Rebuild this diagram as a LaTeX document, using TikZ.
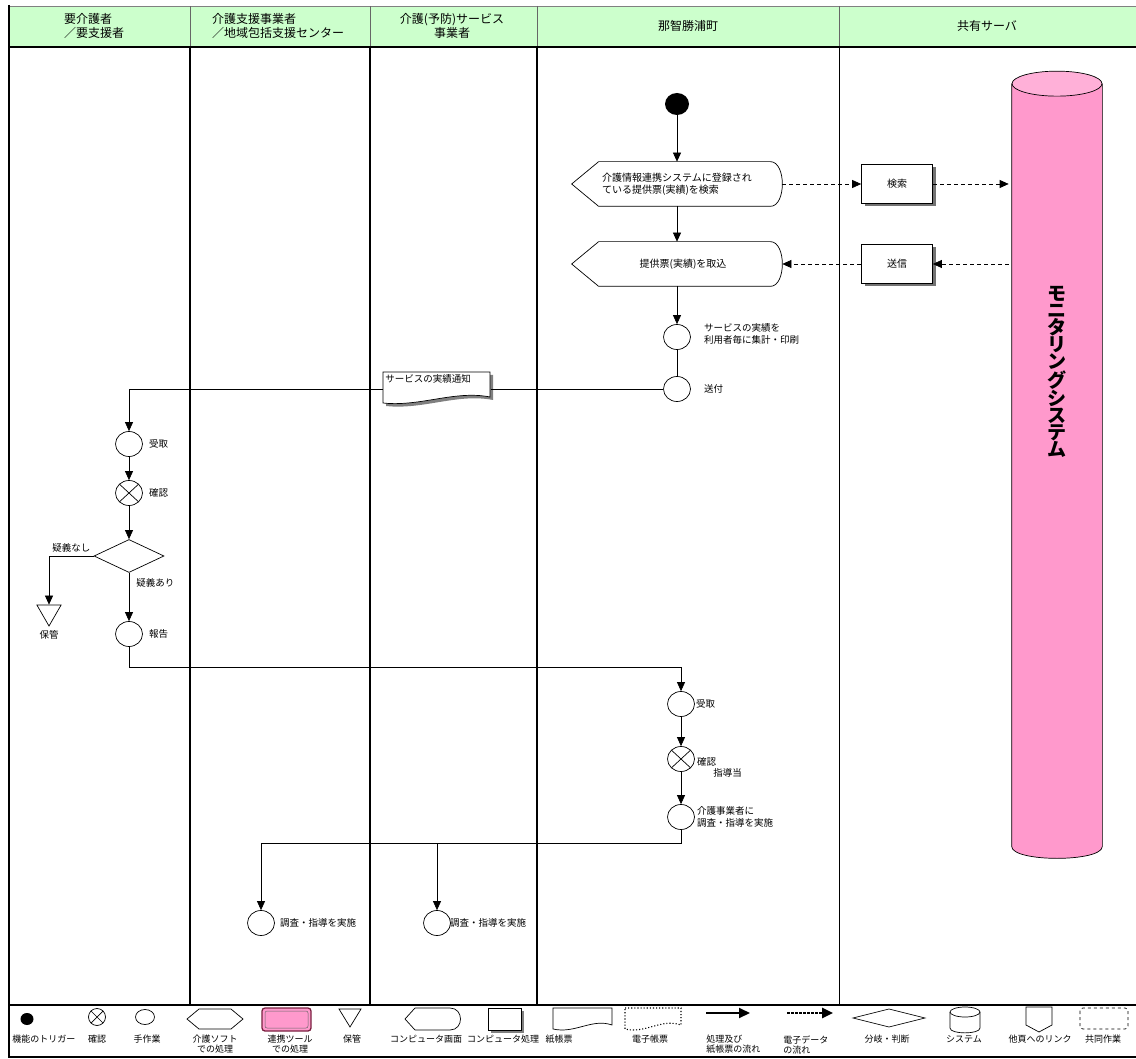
\documentclass[tikz,border=0pt]{standalone}
\usepackage{fontspec}
\setmainfont{Noto Sans CJK JP}
\usetikzlibrary{arrows.meta, positioning, calc, shapes.geometric, shadows}

\definecolor{headgreen}{HTML}{CCFFCC}
\definecolor{syspink}{HTML}{FF99CC}
\definecolor{syspinklt}{HTML}{FFB0D8}
\definecolor{toolred}{HTML}{7A2040}

\begin{document}
\begin{tikzpicture}[
    x=1pt, y=-1pt,
    line width=0.7pt,
    >={Triangle[length=9pt,width=8pt]},
    font=\fontsize{10}{12}\selectfont,
    % 見出し・ラベル
    lanehead/.style={font=\fontsize{12}{14.5}\selectfont, align=left},
    lbl/.style={font=\fontsize{9.5}{11.5}\selectfont, align=left, inner sep=1pt},
    legtext/.style={font=\fontsize{9}{10}\selectfont, anchor=north, align=center, inner sep=0pt},
    % 記号
    trigger/.style={ellipse, fill=black, minimum width=24pt, minimum height=22pt, inner sep=0pt},
    manual/.style={ellipse, draw, fill=white, minimum width=27pt, minimum height=25pt, inner sep=0pt},
    check/.style={manual, path picture={
        \draw (path picture bounding box.north west) -- (path picture bounding box.south east)
              (path picture bounding box.north east) -- (path picture bounding box.south west);}},
    decision/.style={diamond, draw, minimum width=70pt, minimum height=33pt, inner sep=0pt},
    keepsym/.style={regular polygon, regular polygon sides=3, shape border rotate=180, draw, minimum size=28pt, inner sep=0pt},
    screen/.style={rectangle, minimum width=210pt, minimum height=44pt, align=left, inner sep=0pt},
    paper/.style={rectangle, text width=103pt, align=left, inner sep=2pt, text height=8pt, text depth=18pt,
        font=\fontsize{9.5}{11.5}\selectfont},
    proc/.style={rectangle, draw, fill=white, minimum width=71pt, minimum height=39pt,
        drop shadow={shadow xshift=3pt, shadow yshift=-3pt, fill=black!55, opacity=1}},
    sysbody/.style={rectangle, minimum width=90pt, minimum height=762pt, inner sep=0pt},
    systext/.style={font=\fontsize{19}{17}\selectfont\bfseries, align=center},
    flow/.style={->},
    dataflow/.style={->, dash pattern=on 4pt off 3pt}
  ]
  \useasboundingbox (0,0) rectangle (1136,1059);

  % --- 枠とレーン ---
  \fill[headgreen] (9,6) rectangle (1136,46);
  \draw[black!50, line width=0.5pt] (9,6) -- (1136,6);
  \foreach \x in {190,370,537,839}
    \draw[black!60, line width=0.5pt] (\x,6) -- (\x,46);
  \foreach \x in {190,370,537}
    \draw[line width=1.8pt] (\x,47) -- (\x,1005);
  \draw[line width=0.6pt] (839,47) -- (839,1005);
  \draw[line width=2pt] (8,47) -- (1136,47);
  \draw[line width=2pt] (8,1005) -- (1136,1005);
  \draw[line width=2pt] (8,1057) -- (1136,1057);
  \draw[line width=2.6pt] (9,5) -- (9,1058);

  \node[lanehead] (hd1) at (94,26) {要介護者\\／要支援者};
  \node[lanehead] (hd2) at (278,26) {介護支援事業者\\／地域包括支援センター};
  \node[lanehead, align=center] (hd3) at (452,26) {介護(予防)サービス\\事業者};
  \node[lanehead] (hd4) at (688,26) {那智勝浦町};
  \node[lanehead] (hd5) at (987,26) {共有サーバ};

  % --- 共有サーバ ---
  \node[sysbody] (sys) at (1057,465) {};
  \path[fill=syspink, draw] (sys.north west) -- (sys.south west)
    .. controls ($(sys.south west)+(0,16)$) and ($(sys.south east)+(0,16)$) .. (sys.south east)
    -- (sys.north east);
  \draw[fill=syspinklt] (sys.north) ellipse[x radius=45pt, y radius=12.5pt];
  \node[systext] (systitle) at (1057,372) {モ\\ニ\\タ\\リ\\ン\\グ\\シ\\ス\\テ\\ム};

  \node[proc] (find) at (897,184) {検索};
  \node[proc] (reply) at (897,264) {送信};

  % --- 那智勝浦町 ---
  \node[trigger] (start) at (677,104) {};
  \node[screen] (srch) at (677,184) {介護情報連携システムに登録され\\ている提供票(実績)を検索};
  \node[screen] (load) at (677,264) {\hspace*{12pt}提供票(実績)を取込};
  \foreach \s in {srch,load}
    \draw ($(\s.west)$) -- ($(\s.north west)+(27,0)$) -- ($(\s.north east)+(-12,0)$)
      .. controls ($(\s.north east)+(4,0)$) and ($(\s.south east)+(4,0)$) .. ($(\s.south east)+(-12,0)$)
      -- ($(\s.south west)+(27,0)$) -- cycle;

  \node[manual] (tally) at (677,337) {};
  \node[lbl, right=12pt of tally, yshift=3pt] (tallytxt) {サービスの実績を\\利用者毎に集計・印刷};
  \node[manual] (send) at (677,389) {};
  \node[lbl, right=12pt of send] (sendtxt) {送付};

  % 紙帳票
  \coordinate (ntcpos) at (383,372);
  \begin{scope}[shift={(ntcpos)}]
    \fill[black!50] (3,3) -- (110,3) -- (110,28) .. controls (75,21) and (40,38) .. (3,34) -- cycle;
    \draw[fill=white] (0,0) -- (107,0) -- (107,25) .. controls (72,18) and (37,35) .. (0,31) -- cycle;
  \end{scope}
  \node[paper, anchor=north west] (ntc) at (ntcpos) {サービスの実績通知};

  % --- 要介護者 ---
  \node[manual] (recv1) at (129,444) {};
  \node[lbl, right=5pt of recv1] (recv1txt) {受取};
  \node[check] (chk1) at (129,493) {};
  \node[lbl, right=5pt of chk1] (chk1txt) {確認};
  \node[decision] (judge) at (129,556) {};
  \node[keepsym] (keep) at (49,612) {};
  \node[lbl, below=2pt of keep] (keeptxt) {保管};
  \node[manual] (rpt) at (129,634) {};
  \node[lbl, right=5pt of rpt] (rpttxt) {報告};

  % --- 那智勝浦町 (後半) ---
  \node[manual] (recv2) at (681,704) {};
  \node[lbl, right=0pt of recv2] (recv2txt) {受取};
  \node[check] (chk2) at (681,759) {};
  \node[lbl, right=1pt of chk2, yshift=-3pt] (chk2txt) {確認};
  \node[lbl, anchor=west] (chk2note) at (712,773) {指導当};
  \node[manual] (impl) at (681,817) {};
  \node[lbl, right=1pt of impl] (impltxt) {介護事業者に\\調査・指導を実施};

  \node[manual] (inv1) at (261,923) {};
  \node[lbl, right=4pt of inv1] (inv1txt) {調査・指導を実施};
  \node[manual] (inv2) at (437,923) {};
  \node[lbl, right=-2pt of inv2] (inv2txt) {調査・指導を実施};

  \coordinate (rptturn) at (129,667);
  \coordinate (implturn) at (681,843);

  % --- 矢印 ---
  \draw[flow] (start) -- (srch);
  \draw[flow] (srch) -- (load);
  \draw[flow] (load) -- (tally);
  \draw (tally) -- (send);
  \draw (send) -- (send -| ntc.east);
  \draw[flow] (send -| ntc.west) -| (recv1);
  \draw[flow] (recv1) -- (chk1);
  \draw[flow] (chk1) -- (judge);
  \draw[flow] (judge.west) -| node[lbl, pos=0.25, above=2pt] {疑義なし} (keep);
  \draw[flow] (judge) -- node[lbl, pos=0.2, right=6pt] {疑義あり} (rpt);
  \draw[flow] (rpt) -- (rptturn) -| (recv2);
  \draw[flow] (recv2) -- (chk2);
  \draw[flow] (chk2) -- (impl);
  \draw[flow] (impl) -- (implturn) -| (inv1);
  \draw[flow] (inv2 |- implturn) -- (inv2);

  \draw[dataflow] (srch) -- (find);
  \draw[dataflow, shorten >=3pt] (find) -- (find -| sys.west);
  \draw[dataflow, shorten <=3pt] (reply -| sys.west) -- (reply);
  \draw[dataflow] (reply) -- (load);

  % --- 凡例 ---
  \node[trigger, minimum width=13pt, minimum height=12pt] (lg1) at (27,1019) {};
  \node[check, minimum width=17pt, minimum height=17pt] (lg2) at (97,1017) {};
  \node[manual, minimum width=19pt, minimum height=15pt] (lg3) at (145,1017) {};
  \draw (187,1019) -- (199,1009) -- (231,1009) -- (243,1019) -- (231,1029) -- (199,1029) -- cycle;
  \draw[fill=syspink, draw=toolred, line width=1.3pt, rounded corners=3pt] (262,1008) rectangle (311,1031);
  \draw[black!60, line width=0.5pt, rounded corners=2pt] (265,1011) rectangle (308,1028);
  \draw (339,1009) -- (361,1009) -- (350,1027) -- cycle;
  \draw (405,1019) -- (415,1008) -- (450,1008) .. controls (464,1008) and (464,1030) .. (450,1030) -- (415,1030) -- cycle;
  \fill[black!50] (491,1011) rectangle (524,1033);
  \draw[fill=white] (488,1008) rectangle (521,1030);
  \draw[fill=white] (553,1008) -- (612,1008) -- (612,1025) .. controls (592,1018) and (575,1034) .. (553,1029) -- cycle;
  \draw[dotted, line width=1.1pt] (625,1008) -- (681,1008) -- (681,1025) .. controls (662,1018) and (645,1034) .. (625,1029) -- cycle;
  \draw[-{Triangle[length=11pt,width=10pt]}, line width=2pt] (706,1013) -- (750,1013);
  \draw[-{Triangle[length=11pt,width=10pt]}, line width=2.5pt, dash pattern=on 2.5pt off 1.5pt] (787,1013) -- (833,1013);
  \draw (853,1018) -- (889,1009) -- (925,1018) -- (889,1027) -- cycle;
  \draw (950,1012) -- (950,1028) .. controls (950,1034.5) and (980,1034.5) .. (980,1028) -- (980,1012);
  \draw (965,1012) ellipse[x radius=15pt, y radius=5pt];
  \draw (1026,1007) -- (1052,1007) -- (1052,1025) -- (1039,1032) -- (1026,1025) -- cycle;
  \draw[dashed, rounded corners=3pt] (1080,1008) rectangle (1128,1029);

  \node[legtext] (lt1) at (44,1035) {機能のトリガー};
  \node[legtext] (lt2) at (97,1035) {確認};
  \node[legtext] (lt3) at (147,1035) {手作業};
  \node[legtext] (lt4) at (215,1035) {介護ソフト\\での処理};
  \node[legtext] (lt5) at (290,1035) {連携ツール\\での処理};
  \node[legtext] (lt6) at (352,1035) {保管};
  \node[legtext] (lt7) at (426,1035) {コンピュータ画面};
  \node[legtext] (lt8) at (503,1035) {コンピュータ処理};
  \node[legtext] (lt9) at (559,1035) {紙帳票};
  \node[legtext] (lt10) at (650,1035) {電子帳票};
  \node[legtext, anchor=north west, align=left] (lt11) at (706,1035) {処理及び\\紙帳票の流れ};
  \node[legtext, anchor=north west, align=left] (lt12) at (783,1035) {電子データ\\の流れ};
  \node[legtext] (lt13) at (887,1035) {分岐・判断};
  \node[legtext] (lt14) at (964,1035) {システム};
  \node[legtext] (lt15) at (1040,1035) {他頁へのリンク};
  \node[legtext] (lt16) at (1103,1035) {共同作業};
\end{tikzpicture}
\end{document}
